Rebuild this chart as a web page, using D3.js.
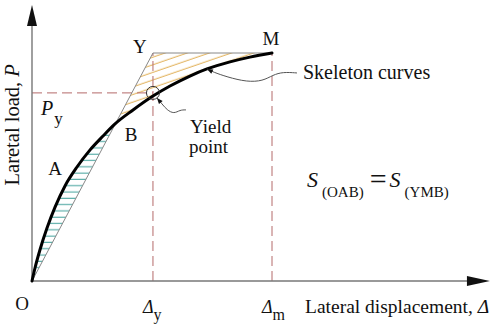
<!DOCTYPE html>
<html>
<head>
<meta charset="utf-8">
<script src="https://cdn.jsdelivr.net/npm/d3@7"></script>
<style>
  body { margin: 0; background: #fff; }
  svg { display: block; }
  text { font-family: "Liberation Serif", "Times New Roman", serif; fill: #111; }
</style>
</head>
<body>
<svg id="chart" width="498" height="325"></svg>
<script>
// skeleton curve, normalised by peak displacement / peak load
const displacement = [0, 0.0125, 0.033, 0.0625, 0.096, 0.1375, 0.1875, 0.242, 0.296, 0.346, 0.421, 0.504, 0.575, 0.658, 0.729, 0.825, 0.908, 1];
const load         = [0, 0.057, 0.136, 0.232, 0.324, 0.417, 0.500, 0.575, 0.636, 0.689, 0.750, 0.811, 0.855, 0.899, 0.930, 0.961, 0.982, 1];

// characteristic points
const yieldDisp = 0.504;
const peakDisp = 1;
const yieldLoad = 0.825;
const peakLoad = 1;
const pointB = 9;        // index where the curve crosses the secant O-Y
const leaderPoint = 14;  // where the "Skeleton curves" arrow hits

const xTickLabels = [
  { value: yieldDisp, main: 'Δ', sub: 'y' },
  { value: peakDisp, main: 'Δ', sub: 'm' }
];
const yTickLabels = [{ value: yieldLoad, main: 'P', sub: 'y' }];

const axisMax = { x: 1.908, y: 1.21 };

const svg = d3.select('#chart');

const x = d3.scaleLinear().domain([0, 1]).range([32, 272]);
const y = d3.scaleLinear().domain([0, 1]).range([281, 53]);

const curve = displacement.map((d, i) => [d, load[i]]);
const line = d3.line()
  .x(d => x(d[0]))
  .y(d => y(d[1]))
  .curve(d3.curveMonotoneX);

const defs = svg.append('defs');

defs.append('pattern')
  .attr('id', 'hatchBlue')
  .attr('patternUnits', 'userSpaceOnUse')
  .attr('width', 10).attr('height', 6.3)
  .append('line')
  .attr('x1', 0).attr('x2', 10).attr('y1', 3).attr('y2', 3)
  .attr('stroke', '#4ea8a2').attr('stroke-width', 1.1);

defs.append('pattern')
  .attr('id', 'hatchYellow')
  .attr('patternUnits', 'userSpaceOnUse')
  .attr('width', 10).attr('height', 7.2)
  .attr('patternTransform', 'rotate(-19)')
  .append('line')
  .attr('x1', 0).attr('x2', 10).attr('y1', 3).attr('y2', 3)
  .attr('stroke', '#e3b562').attr('stroke-width', 1.1);

// lobes between the curve and the O-Y-M envelope
defs.append('clipPath').attr('id', 'lobes')
  .append('path')
  .attr('d', line(curve) + 'L' + x(yieldDisp) + ',' + y(peakLoad) + 'L' + x(0) + ',' + y(0) + 'Z');

defs.append('marker')
  .attr('id', 'arrow')
  .attr('viewBox', '0 0 10 10')
  .attr('refX', 10).attr('refY', 5)
  .attr('markerUnits', 'userSpaceOnUse')
  .attr('markerWidth', 7).attr('markerHeight', 6)
  .attr('orient', 'auto')
  .append('path')
  .attr('d', 'M0,1L10,5L0,9Z')
  .attr('fill', '#111');

const hatch = svg.append('g').attr('clip-path', 'url(#lobes)');
hatch.append('rect')
  .attr('x', x(0)).attr('y', y(load[pointB]))
  .attr('width', x(peakDisp) - x(0)).attr('height', y(0) - y(load[pointB]))
  .attr('fill', 'url(#hatchBlue)');
hatch.append('rect')
  .attr('x', x(0)).attr('y', y(peakLoad))
  .attr('width', x(peakDisp) - x(0)).attr('height', y(load[pointB]) - y(peakLoad))
  .attr('fill', 'url(#hatchYellow)');

// dashed reference lines
const dash = '10,5';
svg.append('line')
  .attr('x1', x(0)).attr('x2', x(yieldDisp))
  .attr('y1', y(yieldLoad)).attr('y2', y(yieldLoad))
  .attr('stroke', '#b46a6a').attr('stroke-width', 1).attr('stroke-dasharray', dash);
[yieldDisp, peakDisp].forEach(v => {
  svg.append('line')
    .attr('x1', x(v)).attr('x2', x(v))
    .attr('y1', y(0)).attr('y2', y(peakLoad))
    .attr('stroke', '#b46a6a').attr('stroke-width', 1).attr('stroke-dasharray', dash);
});

// equivalent bilinear envelope O-Y-M
svg.append('path')
  .attr('d', d3.line()([[x(0), y(0)], [x(yieldDisp), y(peakLoad)], [x(peakDisp), y(peakLoad)]]))
  .attr('fill', 'none').attr('stroke', '#888').attr('stroke-width', 1);

// axes
svg.append('line')
  .attr('x1', x(0)).attr('x2', x(axisMax.x) - 20)
  .attr('y1', y(0)).attr('y2', y(0))
  .attr('stroke', '#777').attr('stroke-width', 1.4);
svg.append('line')
  .attr('x1', x(0)).attr('x2', x(0))
  .attr('y1', y(0)).attr('y2', y(axisMax.y) + 20)
  .attr('stroke', '#777').attr('stroke-width', 1.4);
svg.append('path')
  .attr('d', `M${x(axisMax.x)},${y(0)}L${x(axisMax.x) - 23},${y(0) - 5}L${x(axisMax.x) - 23},${y(0) + 5}Z`)
  .attr('fill', '#111');
svg.append('path')
  .attr('d', `M${x(0)},${y(axisMax.y)}L${x(0) - 5},${y(axisMax.y) + 21}L${x(0) + 5},${y(axisMax.y) + 21}Z`)
  .attr('fill', '#111');

// skeleton curve
svg.append('path')
  .attr('d', line(curve))
  .attr('fill', 'none').attr('stroke', '#000').attr('stroke-width', 3)
  .attr('stroke-linecap', 'round');

// yield point marker
svg.append('circle')
  .attr('cx', x(yieldDisp)).attr('cy', y(yieldLoad)).attr('r', 6.5)
  .attr('fill', 'none').attr('stroke', '#333').attr('stroke-width', 1);

// leaders
const wavy = d3.line().curve(d3.curveBasis);
const tip = [x(displacement[leaderPoint]), y(load[leaderPoint])];
const skeletonLeader = [[90, 4], [76, 3], [66, 6], [56, 12], [40, 13], [20, 8], [6, 3], [0, 0]];
svg.append('path')
  .attr('d', wavy(skeletonLeader.map(p => [tip[0] + p[0], tip[1] + p[1]])))
  .attr('fill', 'none').attr('stroke', '#555').attr('stroke-width', 1)
  .attr('marker-end', 'url(#arrow)');

const yc = [x(yieldDisp), y(yieldLoad)];
const yieldLeader = [[33, 17], [27, 17], [21, 21], [14, 17], [9, 11], [4, 5]];
svg.append('path')
  .attr('d', wavy(yieldLeader.map(p => [yc[0] + p[0], yc[1] + p[1]])))
  .attr('fill', 'none').attr('stroke', '#555').attr('stroke-width', 1)
  .attr('marker-end', 'url(#arrow)');

// point letters
const letters = [
  { t: 'O', px: x(0) - 10, py: y(0) + 29 },
  { t: 'A', px: x(0.096), py: y(0.465) },
  { t: 'B', px: x(displacement[pointB]) + 16, py: y(load[pointB]) + 17 },
  { t: 'Y', px: x(yieldDisp) - 13, py: y(peakLoad) },
  { t: 'M', px: x(peakDisp) - 1, py: y(peakLoad) - 8 }
];
svg.selectAll('text.pt').data(letters).enter().append('text')
  .attr('class', 'pt')
  .attr('x', d => d.px).attr('y', d => d.py)
  .attr('text-anchor', 'middle')
  .style('font-size', '19px')
  .text(d => d.t);

// tick-style labels
xTickLabels.forEach(d => {
  const t = svg.append('text')
    .attr('x', x(d.value) - 10).attr('y', y(0) + 32)
    .style('font-size', '18px');
  t.append('tspan').style('font-style', 'italic').text(d.main);
  t.append('tspan').attr('dy', 7).style('font-size', '16px').text(d.sub);
});
yTickLabels.forEach(d => {
  const t = svg.append('text')
    .attr('x', x(0) + 9).attr('y', y(d.value) + 22)
    .style('font-size', '20px');
  t.append('tspan').style('font-style', 'italic').text(d.main);
  t.append('tspan').attr('dy', 9).attr('dx', 1).style('font-size', '17px').text(d.sub);
});

// axis titles
const xt = svg.append('text')
  .attr('x', 305).attr('y', y(0) + 32)
  .style('font-size', '19.5px');
xt.append('tspan').text('Lateral displacement, ');
xt.append('tspan').style('font-style', 'italic').text('Δ');

const yt = svg.append('text')
  .attr('transform', `translate(19,${y(0.685)}) rotate(-90)`)
  .attr('text-anchor', 'middle')
  .style('font-size', '20.5px');
yt.append('tspan').text('Laretal load, ');
yt.append('tspan').style('font-style', 'italic').text('P');

// annotations
svg.append('text')
  .attr('x', 303).attr('y', 79)
  .style('font-size', '20px')
  .text('Skeleton curves');

const yl = svg.append('text').style('font-size', '19px');
yl.append('tspan').attr('x', 190).attr('y', 133).text('Yield');
yl.append('tspan').attr('x', 189).attr('y', 153).text('point');

const eq = svg.append('text')
  .attr('x', 307).attr('y', 187)
  .style('font-size', '22px');
eq.append('tspan').style('font-style', 'italic').text('S');
eq.append('tspan').attr('dx', 4).attr('dy', 10).style('font-size', '15px').text('(OAB)');
eq.append('tspan').attr('dx', 6).attr('dy', -8).style('font-size', '30px').text('=');
eq.append('tspan').attr('dx', 3).attr('dy', -2).style('font-style', 'italic').text('S');
eq.append('tspan').attr('dx', 4).attr('dy', 10).style('font-size', '15px').text('(YMB)');
</script>
</body>
</html>
